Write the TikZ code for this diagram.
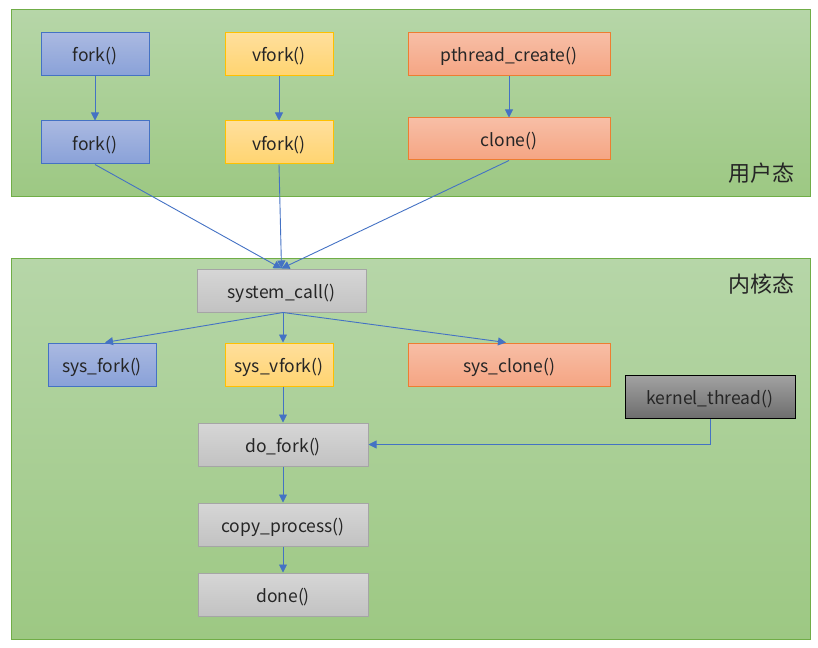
\documentclass[tikz,border=0pt]{standalone}
\usepackage{fontspec}
\setmainfont{Noto Sans CJK SC}
\usetikzlibrary{arrows.meta}
\definecolor{panelbd}{HTML}{70AD47}
\definecolor{paneltop}{HTML}{B6D6A8}
\definecolor{panelbot}{HTML}{9DC883}
\definecolor{arr}{HTML}{4472C4}
\definecolor{txt}{HTML}{262626}
\definecolor{bluetop}{RGB}{170,185,225}
\definecolor{bluebot}{RGB}{137,161,216}
\definecolor{yelbd}{RGB}{255,192,0}
\definecolor{yeltop}{RGB}{255,223,156}
\definecolor{yelbot}{RGB}{255,212,112}
\definecolor{orabd}{RGB}{237,125,49}
\definecolor{oratop}{RGB}{247,190,166}
\definecolor{orabot}{RGB}{245,165,131}
\definecolor{graybd}{RGB}{165,165,165}
\definecolor{graytop}{RGB}{214,214,214}
\definecolor{graybot}{RGB}{194,194,194}
\definecolor{darktop}{RGB}{162,162,162}
\definecolor{darkbot}{RGB}{110,110,110}
\tikzset{
  x=1pt,y=-1pt,
  panel/.style={draw=panelbd,line width=1pt,top color=paneltop,bottom color=panelbot},
  box/.style={rectangle,inner sep=0pt,line width=1pt,minimum height=43pt,minimum width=108pt,
     font=\fontsize{17.5}{20}\selectfont,text=txt,text height=15pt,text depth=0pt},
  bluebox/.style={box,draw=arr,top color=bluetop,bottom color=bluebot},
  yellowbox/.style={box,draw=yelbd,top color=yeltop,bottom color=yelbot},
  orangebox/.style={box,minimum width=202pt,draw=orabd,top color=oratop,bottom color=orabot},
  graybox/.style={box,minimum width=170pt,draw=graybd,top color=graytop,bottom color=graybot},
  darkbox/.style={box,minimum width=170pt,draw=black,top color=darktop,bottom color=darkbot},
  conn/.style={draw=arr,line width=0.9pt,-{Triangle[length=8pt,width=8pt]}},
  zone/.style={font=\fontsize{22}{24}\selectfont,text=txt,inner sep=0pt}
}
\begin{document}
\begin{tikzpicture}
\useasboundingbox (0,0) rectangle (818,647);
\path[panel] (11,10) rectangle (810,196);
\path[panel] (11,258) rectangle (810,639);
\node[zone] (user) at (761.5,173) {用户态};
\node[zone] (kern) at (761.5,284) {内核态};

\node[bluebox] (f1) at (95,54.5) {fork()};
\node[bluebox] (f2) at (95,142.5) {fork()};
\node[yellowbox] (v1) at (279,54.5) {vfork()};
\node[yellowbox] (v2) at (279,142.5) {vfork()};
\node[orangebox] (p1) at (509,54.5) {pthread\_create()};
\node[orangebox,minimum height=42pt] (cl) at (509,139) {clone()};

\node[graybox,minimum width=169pt] (sc) at (281.5,290.5) {system\_call()};
\node[bluebox] (sf) at (102,364.5) {sys\_fork()};
\node[yellowbox] (sv) at (279,364.5) {sys\_vfork()};
\node[orangebox] (scl) at (509,364.5) {sys\_clone()};
\node[darkbox] (kt) at (710,396.5) {kernel\_thread()};
\node[graybox] (df) at (283,444.5) {do\_fork()};
\node[graybox] (cp) at (283,524.5) {copy\_process()};
\node[graybox] (dn) at (283,594.5) {done()};

\draw[conn] (f1) -- (f2);
\draw[conn] (v1) -- (v2);
\draw[conn] (p1) -- (cl);
\draw[conn] (f2.south) -- (sc.north);
\draw[conn] (v2.south) -- (sc.north);
\draw[conn] (cl.south) -- (sc.north);
\draw[conn] ([xshift=1.5pt]sc.south) -- ([xshift=3pt]sf.north);
\draw[conn] ([xshift=1.5pt]sc.south) -- ([xshift=4pt]sv.north);
\draw[conn] ([xshift=1.5pt]sc.south) -- ([xshift=-3pt]scl.north);
\draw[conn] ([xshift=4pt]sv.south) -- (df.north);
\draw[conn] (kt.south) |- (df.east);
\draw[conn] (df) -- (cp);
\draw[conn] (cp) -- (dn);
\end{tikzpicture}
\end{document}
